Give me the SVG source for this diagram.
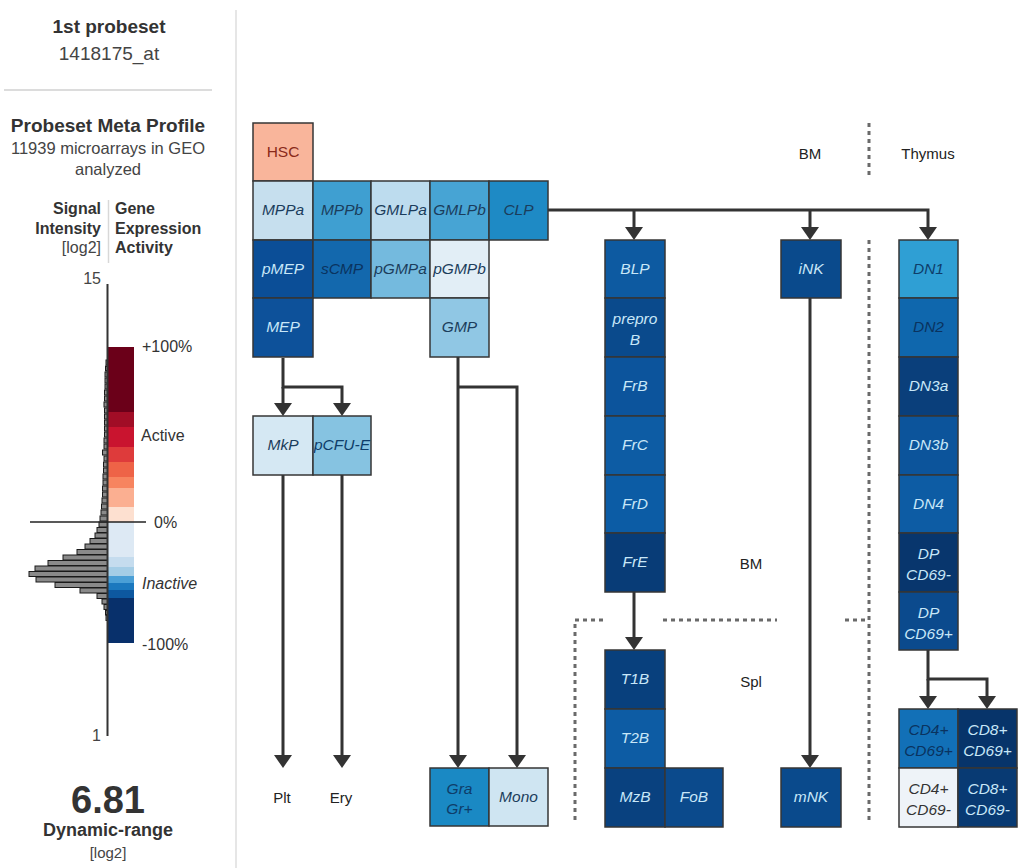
<svg xmlns="http://www.w3.org/2000/svg" width="1024" height="868" viewBox="0 0 1024 868">
<defs>
<style>
text{font-family:"Liberation Sans",Arial,sans-serif}
.h{font-weight:bold;fill:#333;font-size:19px;text-anchor:middle}
.n{fill:#444;font-size:16.5px;text-anchor:middle}
.sb{font-weight:bold;fill:#333;font-size:16px}
.sr{fill:#444;font-size:16px}
.lab{fill:#333;font-size:16px}
.reg{fill:#222;font-size:15px;text-anchor:middle}
.cell{stroke:#363636;stroke-width:1.5}
.t{font-style:italic;font-size:15.5px;text-anchor:middle}
.lt{fill:#c8e7f8}
.dk{fill:#1b3d5c}
.bar{fill:#8a8a8a;stroke:#1a1a1a;stroke-width:1}
.con{fill:none;stroke:#333;stroke-width:3;marker-end:url(#ah)}
.dot{fill:none;stroke:#6a6a6a;stroke-width:3;stroke-dasharray:4 4}
</style>
<marker id="ah" viewBox="0 0 13 18" refX="7" refY="9" markerWidth="13" markerHeight="18" markerUnits="userSpaceOnUse" orient="auto">
<path d="M0,0 L13,9 L0,18 z" fill="#333"/>
</marker>
</defs>
<rect width="1024" height="868" fill="#fff"/>

<!-- left panel -->
<g id="sidebar">
<line x1="236" y1="10" x2="236" y2="868" stroke="#e6e6e6" stroke-width="2"/>
<line x1="4" y1="90" x2="212" y2="90" stroke="#dcdcdc" stroke-width="2"/>
<text class="h" x="109" y="33">1st probeset</text>
<text class="n" x="109" y="60" style="font-size:19px">1418175_at</text>
<text class="h" x="108" y="132">Probeset Meta Profile</text>
<text class="n" x="108" y="154">11939 microarrays in GEO</text>
<text class="n" x="108" y="175">analyzed</text>
<line x1="108.5" y1="200" x2="108.5" y2="263" stroke="#d8d8d8" stroke-width="1.5"/>
<text class="sb" x="101" y="214" text-anchor="end">Signal</text>
<text class="sb" x="101" y="234" text-anchor="end">Intensity</text>
<text class="sr" x="101" y="253" text-anchor="end">[log2]</text>
<text class="sb" x="115" y="214">Gene</text>
<text class="sb" x="115" y="234">Expression</text>
<text class="sb" x="115" y="253">Activity</text>
<text class="sr" x="101" y="284" text-anchor="end">15</text>
<text class="sr" x="101" y="741" text-anchor="end">1</text>
</g>

<g id="colorbar">
<rect x="108" y="347" width="26" height="65" fill="#6b0019"/>
<rect x="108" y="412" width="26" height="15" fill="#a10d26"/>
<rect x="108" y="427" width="26" height="20" fill="#c9142f"/>
<rect x="108" y="447" width="26" height="15" fill="#de3b3b"/>
<rect x="108" y="462" width="26" height="15" fill="#ee6347"/>
<rect x="108" y="477" width="26" height="11" fill="#f7845f"/>
<rect x="108" y="488" width="26" height="19" fill="#fbaf91"/>
<rect x="108" y="507" width="26" height="15" fill="#fde0d0"/>
<rect x="108" y="522" width="26" height="35" fill="#dde9f4"/>
<rect x="108" y="557" width="26" height="10" fill="#c5dcee"/>
<rect x="108" y="567" width="26" height="9" fill="#a4cde6"/>
<rect x="108" y="576" width="26" height="7" fill="#4a9fd6"/>
<rect x="108" y="583" width="26" height="7" fill="#1b78be"/>
<rect x="108" y="590" width="26" height="8" fill="#0d58a0"/>
<rect x="108" y="598" width="26" height="45" fill="#08306b"/>
</g>

<g id="histogram">
<rect class="bar" x="106" y="360" width="1.5" height="5"/>
<rect class="bar" x="105.5" y="366" width="2" height="5"/>
<rect class="bar" x="105" y="372" width="2.5" height="5"/>
<rect class="bar" x="105" y="378" width="2.5" height="5"/>
<rect class="bar" x="105" y="384" width="2.5" height="5"/>
<rect class="bar" x="104.5" y="390" width="3" height="5"/>
<rect class="bar" x="104.5" y="396" width="3" height="5"/>
<rect class="bar" x="104" y="402" width="3.5" height="5"/>
<rect class="bar" x="104.5" y="408" width="3" height="5"/>
<rect class="bar" x="104.5" y="414" width="3" height="5"/>
<rect class="bar" x="104.5" y="420" width="3" height="5"/>
<rect class="bar" x="104.5" y="426" width="3" height="5"/>
<rect class="bar" x="104.5" y="432" width="3" height="5"/>
<rect class="bar" x="104" y="438" width="3.5" height="5"/>
<rect class="bar" x="104" y="444" width="3.5" height="5"/>
<rect class="bar" x="102.5" y="450" width="5" height="5"/>
<rect class="bar" x="104" y="456" width="3.5" height="5"/>
<rect class="bar" x="103.5" y="462" width="4" height="5"/>
<rect class="bar" x="103.5" y="468" width="4" height="5"/>
<rect class="bar" x="103" y="474" width="4.5" height="5"/>
<rect class="bar" x="103" y="480" width="4.5" height="5"/>
<rect class="bar" x="102.5" y="486" width="5" height="5"/>
<rect class="bar" x="102.5" y="492" width="5" height="5"/>
<rect class="bar" x="102" y="498" width="5.5" height="5"/>
<rect class="bar" x="101.5" y="504" width="6" height="5"/>
<rect class="bar" x="101" y="510" width="6.5" height="5"/>
<rect class="bar" x="100" y="516" width="7.5" height="5"/>
<rect class="bar" x="99" y="522" width="8.5" height="5"/>
<rect class="bar" x="97" y="527.5" width="10.5" height="5"/>
<rect class="bar" x="95" y="533" width="12.5" height="5"/>
<rect class="bar" x="90" y="538.5" width="17.5" height="5"/>
<rect class="bar" x="85" y="544" width="22.5" height="5"/>
<rect class="bar" x="77" y="549.5" width="30.5" height="5"/>
<rect class="bar" x="63" y="555" width="44.5" height="5"/>
<rect class="bar" x="48" y="560.5" width="59.5" height="5"/>
<rect class="bar" x="35" y="566" width="72.5" height="5"/>
<rect class="bar" x="29" y="571.5" width="78.5" height="5"/>
<rect class="bar" x="36" y="577" width="71.5" height="5"/>
<rect class="bar" x="55" y="582.5" width="52.5" height="5"/>
<rect class="bar" x="80" y="588" width="27.5" height="5"/>
<rect class="bar" x="97" y="593.5" width="10.5" height="5"/>
<rect class="bar" x="102" y="599" width="5.5" height="5"/>
<rect class="bar" x="104" y="604.5" width="3.5" height="5"/>
<rect class="bar" x="105.5" y="610" width="2" height="5"/>
<rect class="bar" x="106" y="615.5" width="1.5" height="5"/>
</g>

<g id="axis">
<line x1="107.5" y1="284" x2="107.5" y2="736" stroke="#333" stroke-width="2"/>
<line x1="30" y1="522" x2="146" y2="522" stroke="#222" stroke-width="1.5"/>
<text class="lab" x="142" y="352">+100%</text>
<text class="lab" x="141" y="441">Active</text>
<text class="lab" x="154" y="528">0%</text>
<text class="lab" x="142" y="589" font-style="italic">Inactive</text>
<text class="lab" x="142" y="650">-100%</text>
</g>

<g id="dynamic-range">
<text x="108" y="813" text-anchor="middle" font-weight="bold" font-size="38" fill="#333">6.81</text>
<text x="108" y="836" text-anchor="middle" font-weight="bold" font-size="18" fill="#333">Dynamic-range</text>
<text x="108" y="858" text-anchor="middle" font-size="15" fill="#444">[log2]</text>
</g>

<!-- region labels and dotted boundaries -->
<g id="regions">
<path class="dot" d="M869,123 V176"/>
<path class="dot" d="M869,240 V820"/>
<path class="dot" d="M575,820 V620 H605"/>
<path class="dot" d="M663,620 H777"/>
<path class="dot" d="M845,620 H869"/>
<text class="reg" x="810" y="159">BM</text>
<text class="reg" x="928" y="159">Thymus</text>
<text class="reg" x="751" y="569">BM</text>
<text class="reg" x="751" y="687">Spl</text>
<text class="reg" x="282" y="803">Plt</text>
<text class="reg" x="341" y="803">Ery</text>
</g>

<!-- connectors -->
<g id="connectors">
<path class="con" d="M548,210 H928 V234"/>
<path class="con" d="M634,210 V234"/>
<path class="con" d="M810,210 V234"/>
<path class="con" d="M283,358 V387 H342 V410"/>
<path class="con" d="M283,387 V410"/>
<path class="con" d="M458,357 V762"/>
<path class="con" d="M458,387 H517 V762"/>
<path class="con" d="M283,475 V762"/>
<path class="con" d="M342,475 V762"/>
<path class="con" d="M634,592 V644"/>
<path class="con" d="M810,298 V762"/>
<path class="con" d="M928,650 V679 H987 V703"/>
<path class="con" d="M928,679 V703"/>
</g>

<!-- nodes -->
<g id="HSC"><rect class="cell" x="253" y="123" width="60" height="58" fill="#f9b59b"/><text x="283" y="157" text-anchor="middle" font-size="15.5" fill="#8a2a1a">HSC</text></g>
<g id="MPPa"><rect class="cell" x="253" y="181" width="60" height="59" fill="#c6dfee"/><text class="t dk" x="283" y="215">MPPa</text></g>
<g id="MPPb"><rect class="cell" x="313" y="181" width="58" height="59" fill="#3f9fd1"/><text class="t dk" x="342" y="215">MPPb</text></g>
<g id="GMLPa"><rect class="cell" x="371" y="181" width="59" height="59" fill="#bddcee"/><text class="t dk" x="400.5" y="215">GMLPa</text></g>
<g id="GMLPb"><rect class="cell" x="430" y="181" width="59" height="59" fill="#47a4d4"/><text class="t dk" x="459.5" y="215">GMLPb</text></g>
<g id="CLP"><rect class="cell" x="489" y="181" width="59" height="59" fill="#1e8ac5"/><text class="t dk" x="518.5" y="215">CLP</text></g>
<g id="pMEP"><rect class="cell" x="253" y="240" width="60" height="58" fill="#0b4e97"/><text class="t lt" x="283" y="274">pMEP</text></g>
<g id="sCMP"><rect class="cell" x="313" y="240" width="58" height="58" fill="#1368ad"/><text class="t" x="342" y="274" fill="#0a335f">sCMP</text></g>
<g id="pGMPa"><rect class="cell" x="371" y="240" width="59" height="58" fill="#74bade"/><text class="t dk" x="400.5" y="274">pGMPa</text></g>
<g id="pGMPb"><rect class="cell" x="430" y="240" width="59" height="58" fill="#e2eef6"/><text class="t dk" x="459.5" y="274">pGMPb</text></g>
<g id="MEP"><rect class="cell" x="253" y="298" width="60" height="59" fill="#0d519a"/><text class="t lt" x="283" y="332">MEP</text></g>
<g id="GMP"><rect class="cell" x="430" y="298" width="59" height="59" fill="#90c7e4"/><text class="t dk" x="459.5" y="332">GMP</text></g>
<g id="MkP"><rect class="cell" x="253" y="416" width="60" height="59" fill="#d5e8f3"/><text class="t dk" x="283" y="450">MkP</text></g>
<g id="pCFU-E"><rect class="cell" x="313" y="416" width="58" height="59" fill="#86c3e1"/><text class="t" x="342" y="450" fill="#0e3d6a">pCFU-E</text></g>
<g id="Gra"><rect class="cell" x="430" y="768" width="59" height="58" fill="#1a89c4"/><text class="t" x="459.5" y="794" fill="#0e3d6a">Gra</text><text class="t" x="459.5" y="814" fill="#0e3d6a">Gr+</text></g>
<g id="Mono"><rect class="cell" x="489" y="768" width="59" height="58" fill="#cfe5f2"/><text class="t dk" x="518.5" y="802">Mono</text></g>

<g id="BLP"><rect class="cell" x="605" y="240" width="60" height="58" fill="#0d5aa1"/><text class="t lt" x="635" y="274">BLP</text></g>
<g id="preproB"><rect class="cell" x="605" y="298" width="60" height="59" fill="#0a4a8c"/><text class="t lt" x="635" y="324">prepro</text><text class="t lt" x="635" y="345">B</text></g>
<g id="FrB"><rect class="cell" x="605" y="357" width="60" height="59" fill="#0c549c"/><text class="t lt" x="635" y="391">FrB</text></g>
<g id="FrC"><rect class="cell" x="605" y="416" width="60" height="59" fill="#0d5ca4"/><text class="t lt" x="635" y="450">FrC</text></g>
<g id="FrD"><rect class="cell" x="605" y="475" width="60" height="58" fill="#0c5ca5"/><text class="t lt" x="635" y="509">FrD</text></g>
<g id="FrE"><rect class="cell" x="605" y="533" width="60" height="59" fill="#083c77"/><text class="t lt" x="635" y="567">FrE</text></g>
<g id="T1B"><rect class="cell" x="605" y="650" width="60" height="59" fill="#08407d"/><text class="t lt" x="635" y="684">T1B</text></g>
<g id="T2B"><rect class="cell" x="605" y="709" width="60" height="59" fill="#0d5ca4"/><text class="t lt" x="635" y="743">T2B</text></g>
<g id="MzB"><rect class="cell" x="605" y="768" width="60" height="59" fill="#09417f"/><text class="t lt" x="635" y="802">MzB</text></g>
<g id="FoB"><rect class="cell" x="665" y="768" width="58" height="59" fill="#0b4a8c"/><text class="t lt" x="694" y="802">FoB</text></g>
<g id="iNK"><rect class="cell" x="781" y="240" width="60" height="58" fill="#0a4a8c"/><text class="t lt" x="811" y="274">iNK</text></g>
<g id="mNK"><rect class="cell" x="781" y="768" width="60" height="59" fill="#0a4a8c"/><text class="t lt" x="811" y="802">mNK</text></g>

<g id="DN1"><rect class="cell" x="899" y="240" width="59" height="58" fill="#2f9fd4"/><text class="t" x="928.5" y="274" fill="#0e3d6a">DN1</text></g>
<g id="DN2"><rect class="cell" x="899" y="298" width="59" height="59" fill="#0f67ad"/><text class="t" x="928.5" y="332" fill="#0a335f">DN2</text></g>
<g id="DN3a"><rect class="cell" x="899" y="357" width="59" height="59" fill="#0a3f7b"/><text class="t lt" x="928.5" y="391">DN3a</text></g>
<g id="DN3b"><rect class="cell" x="899" y="416" width="59" height="59" fill="#0c549b"/><text class="t lt" x="928.5" y="450">DN3b</text></g>
<g id="DN4"><rect class="cell" x="899" y="475" width="59" height="58" fill="#0d5ca4"/><text class="t lt" x="928.5" y="509">DN4</text></g>
<g id="DP-CD69-"><rect class="cell" x="899" y="533" width="59" height="59" fill="#08366d"/><text class="t lt" x="928.5" y="559">DP</text><text class="t lt" x="928.5" y="580">CD69-</text></g>
<g id="DP-CD69+"><rect class="cell" x="899" y="592" width="59" height="58" fill="#0b4a8d"/><text class="t lt" x="928.5" y="618">DP</text><text class="t lt" x="928.5" y="639">CD69+</text></g>
<g id="CD4-CD69+"><rect class="cell" x="899" y="709" width="59" height="59" fill="#1270b7"/><text class="t" x="928.5" y="735" fill="#0a335f">CD4+</text><text class="t" x="928.5" y="756" fill="#0a335f">CD69+</text></g>
<g id="CD8-CD69+"><rect class="cell" x="958" y="709" width="59" height="59" fill="#07346a"/><text class="t lt" x="987.5" y="735">CD8+</text><text class="t lt" x="987.5" y="756">CD69+</text></g>
<g id="CD4-CD69-"><rect class="cell" x="899" y="768" width="59" height="59" fill="#eef3f8"/><text class="t" x="928.5" y="794" fill="#333">CD4+</text><text class="t" x="928.5" y="815" fill="#333">CD69-</text></g>
<g id="CD8-CD69-"><rect class="cell" x="958" y="768" width="59" height="59" fill="#083a73"/><text class="t lt" x="987.5" y="794">CD8+</text><text class="t lt" x="987.5" y="815">CD69-</text></g>
</svg>
